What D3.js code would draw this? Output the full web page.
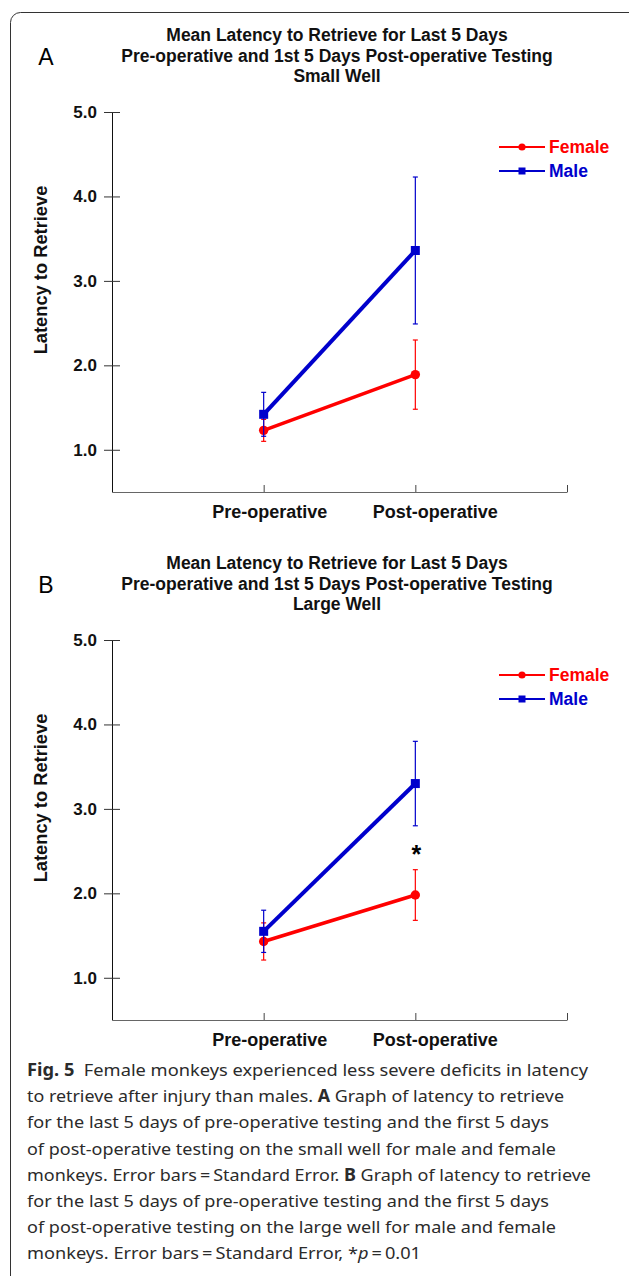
<!DOCTYPE html>
<html>
<head>
<meta charset="utf-8">
<script src="https://cdn.jsdelivr.net/npm/d3@7"></script>
<style>
  body { margin: 0; background: #fff; }
  svg { display: block; }
</style>
</head>
<body>
<svg id="chart" width="629" height="1276"></svg>
<script>
// categories + tick values
const categories = ["Pre-operative", "Post-operative"];
const seriesNames = ["Female", "Male"];
const yTicks = [1.0, 2.0, 3.0, 4.0, 5.0];

// Panel A - small well (mean, standard error)
const smallFemaleMean = [1.23, 1.89];
const smallFemaleSE = [0.13, 0.41];
const smallMaleMean = [1.42, 3.36];
const smallMaleSE = [0.26, 0.87];

// Panel B - large well
const largeFemaleMean = [1.43, 1.98];
const largeFemaleSE = [0.22, 0.30];
const largeMaleMean = [1.55, 3.30];
const largeMaleSE = [0.25, 0.50];

const titleA = ["Mean Latency to Retrieve for Last 5 Days", "Pre-operative and 1st 5 Days Post-operative Testing", "Small Well"];
const titleB = ["Mean Latency to Retrieve for Last 5 Days", "Pre-operative and 1st 5 Days Post-operative Testing", "Large Well"];

// caption lines: [text, style]
const captionLines = [
    [["Fig. 5", "b"], ["  Female monkeys experienced less severe deficits in latency", ""]],
    [["to retrieve after injury than males. ", ""], ["A", "b"], [" Graph of latency to retrieve", ""]],
    [["for the last 5 days of pre-operative testing and the first 5 days", ""]],
    [["of post-operative testing on the small well for male and female", ""]],
    [["monkeys. Error bars\u2009=\u2009Standard Error. ", ""], ["B", "b"], [" Graph of latency to retrieve", ""]],
    [["for the last 5 days of pre-operative testing and the first 5 days", ""]],
    [["of post-operative testing on the large well for male and female", ""]],
    [["monkeys. Error bars\u2009=\u2009Standard Error, *", ""], ["p", "i"], ["\u2009=\u20090.01", ""]]
];
const captionWidths = [561, 537, 522, 529, 564, 522, 529, 394];

const colors = { Female: "#ff0000", Male: "#0000cc" };
const font = "'Liberation Sans', Arial, sans-serif";

const svg = d3.select("#chart");

// outer rounded frame (runs off the right / bottom edge)
svg.append("rect")
    .attr("x", 10.5).attr("y", 12.5)
    .attr("width", 640).attr("height", 1280)
    .attr("rx", 10)
    .attr("fill", "none")
    .attr("stroke", "#333")
    .attr("stroke-width", 1);

const x = d3.scaleLinear().domain([0, 3]).range([112, 567]);
const y = d3.scaleLinear().domain([0.5, 5.0]).range([492, 112]);

function drawPanel(offset, letter, title, female, femaleSE, male, maleSE, star) {
    const g = svg.append("g").attr("transform", `translate(0,${offset})`);

    // panel letter
    g.append("text")
        .attr("x", 46).attr("y", 65)
        .attr("text-anchor", "middle")
        .style("font-family", font)
        .style("font-size", "23px")
        .text(letter);

    // title
    g.append("text")
        .attr("text-anchor", "middle")
        .style("font-family", font)
        .style("font-weight", "bold")
        .style("font-size", "17.5px")
        .attr("fill", "#111")
        .selectAll("tspan")
        .data(title)
        .enter().append("tspan")
        .attr("x", 337)
        .attr("y", (d, i) => 41 + i * 20.5)
        .text(d => d);

    // Y axis
    const yAxis = g.append("g")
        .attr("transform", `translate(${x(0)},0)`)
        .call(d3.axisLeft(y).tickValues(yTicks).tickSize(8).tickSizeOuter(0).tickPadding(7).tickFormat(d3.format(".1f")));
    yAxis.select(".domain").attr("stroke", "#111");
    yAxis.selectAll(".tick line").attr("x1", 8).attr("stroke", "#333");
    yAxis.selectAll(".tick text")
        .style("font-family", font)
        .style("font-weight", "bold")
        .style("font-size", "17px")
        .attr("fill", "#111");

    // X axis (ticks point up)
    const xAxis = g.append("g")
        .attr("transform", `translate(0,${y(0.5)})`)
        .call(d3.axisBottom(x).tickValues([1, 2, 3]).tickSize(-7).tickSizeOuter(0).tickFormat(""));
    xAxis.select(".domain").attr("stroke", "#666");
    xAxis.selectAll(".tick line").attr("stroke", "#444");

    // category labels
    const labelShift = [6, 20];
    g.selectAll(".cat")
        .data(categories)
        .enter().append("text")
        .attr("class", "cat")
        .attr("x", (d, i) => x(i + 1) + labelShift[i])
        .attr("y", y(0.5) + 26)
        .attr("text-anchor", "middle")
        .style("font-family", font)
        .style("font-weight", "bold")
        .style("font-size", "18px")
        .attr("fill", "#111")
        .text(d => d);

    // Y axis title
    g.append("text")
        .attr("transform", "rotate(-90)")
        .attr("x", -270)
        .attr("y", 47)
        .attr("text-anchor", "middle")
        .style("font-family", font)
        .style("font-weight", "bold")
        .style("font-size", "18.3px")
        .attr("fill", "#111")
        .text("Latency to Retrieve");

    const series = [
        { name: "Female", mean: female, se: femaleSE },
        { name: "Male", mean: male, se: maleSE }
    ];

    series.forEach(s => {
        const pts = s.mean.map((m, i) => ({ x: i + 1, m: m, se: s.se[i] }));
        const c = colors[s.name];

        // error bars
        pts.forEach(p => {
            g.append("line")
                .attr("x1", x(p.x)).attr("x2", x(p.x))
                .attr("y1", y(p.m - p.se)).attr("y2", y(p.m + p.se))
                .attr("stroke", c).attr("stroke-width", 1.2);
            [p.m - p.se, p.m + p.se].forEach(v => {
                g.append("line")
                    .attr("x1", x(p.x) - 2.5).attr("x2", x(p.x) + 2.5)
                    .attr("y1", y(v)).attr("y2", y(v))
                    .attr("stroke", c).attr("stroke-width", 1.2);
            });
        });

        g.append("path")
            .datum(pts)
            .attr("fill", "none")
            .attr("stroke", c)
            .attr("stroke-width", s.name === "Male" ? 4 : 3.5)
            .attr("d", d3.line().x(d => x(d.x)).y(d => y(d.m)));

        if (s.name === "Female") {
            g.selectAll(".fdot").data(pts).enter().append("circle")
                .attr("cx", d => x(d.x)).attr("cy", d => y(d.m))
                .attr("r", 4.7).attr("fill", c);
        } else {
            g.selectAll(".msq").data(pts).enter().append("rect")
                .attr("x", d => x(d.x) - 4.5).attr("y", d => y(d.m) - 4.5)
                .attr("width", 9).attr("height", 9).attr("fill", c);
        }
    });

    // significance star
    if (star) {
        g.append("text")
            .attr("x", x(2) + 1)
            .attr("y", y(star) + 15)
            .attr("text-anchor", "middle")
            .style("font-family", font)
            .style("font-weight", "bold")
            .style("font-size", "25px")
            .text("*");
    }

    // legend
    seriesNames.forEach((name, i) => {
        const ly = 147 + i * 24;
        const c = colors[name];
        g.append("line")
            .attr("x1", 499).attr("x2", 545)
            .attr("y1", ly).attr("y2", ly)
            .attr("stroke", c).attr("stroke-width", 2.2);
        if (name === "Female") {
            g.append("circle").attr("cx", 522).attr("cy", ly).attr("r", 3.6).attr("fill", c);
        } else {
            g.append("rect").attr("x", 518.5).attr("y", ly - 3.5).attr("width", 7).attr("height", 7).attr("fill", c);
        }
        g.append("text")
            .attr("x", 549).attr("y", ly + 6)
            .style("font-family", font)
            .style("font-weight", "bold")
            .style("font-size", "17.5px")
            .attr("fill", c)
            .text(name);
    });
}

drawPanel(0, "A", titleA, smallFemaleMean, smallFemaleSE, smallMaleMean, smallMaleSE, null);
drawPanel(528, "B", titleB, largeFemaleMean, largeFemaleSE, largeMaleMean, largeMaleSE, 2.54);

// caption
const cap = svg.append("g")
    .style("font-family", "'Noto Sans', 'Open Sans', sans-serif")
    .style("font-size", "17px")
    .attr("fill", "#2b2b2b");

captionLines.forEach((line, i) => {
    const t = cap.append("text")
        .attr("x", 27)
        .attr("y", 1076 + i * 26.2)
        .attr("textLength", captionWidths[i])
        .attr("lengthAdjust", "spacingAndGlyphs")
        .attr("xml:space", "preserve")
        .style("white-space", "pre");
    line.forEach(seg => {
        t.append("tspan")
            .style("font-weight", seg[1] === "b" ? "bold" : "normal")
            .style("font-style", seg[1] === "i" ? "italic" : "normal")
            .text(seg[0]);
    });
});
</script>
</body>
</html>
